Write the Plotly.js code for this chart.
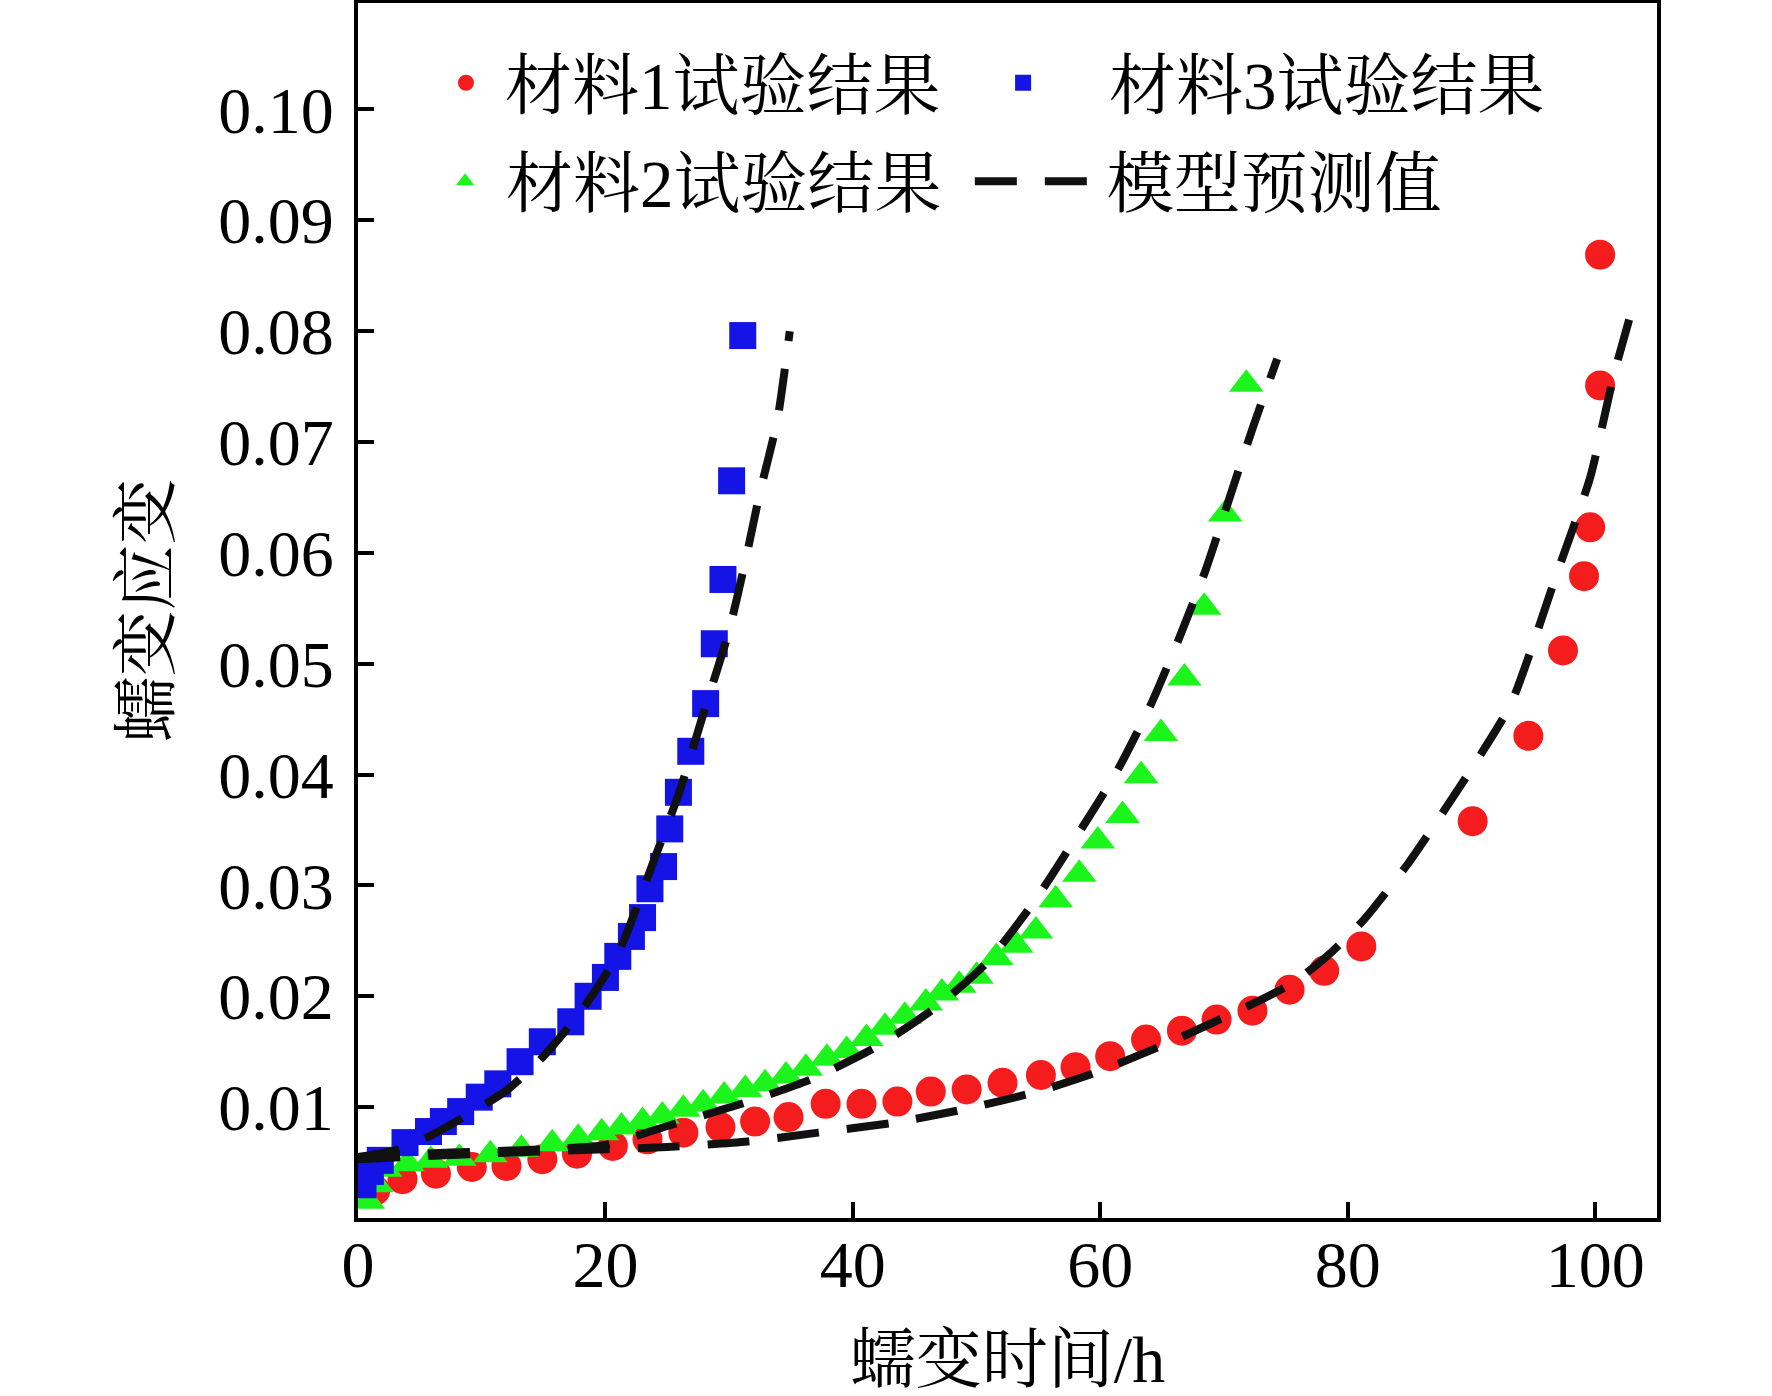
<!DOCTYPE html>
<html>
<head>
<meta charset="utf-8">
<script src="https://cdn.plot.ly/plotly-3.0.1.min.js"></script>
<style>
  html, body { margin: 0; padding: 0; background: #ffffff; }
  #creepChart { width: 1772px; height: 1396px; }
</style>
</head>
<body>
<div id="creepChart"></div>
<script>
// 材料1 (红色圆点)
var M1_X = [1.4, 3.6, 6.3, 9.2, 12.0, 14.9, 17.7, 20.6, 23.4, 26.3, 29.3, 32.1, 34.8, 37.8, 40.7, 43.6, 46.3, 49.2, 52.1, 55.2, 58.0, 60.8, 63.7, 66.6, 69.4, 72.3, 75.3, 78.1, 81.1, 90.1, 94.6, 97.4, 99.1, 99.6, 100.4, 100.4];
var M1_Y = [0.0025, 0.0035, 0.0040, 0.0046, 0.0047, 0.0053, 0.0058, 0.0065, 0.0071, 0.0077, 0.0082, 0.0087, 0.0091, 0.0103, 0.0103, 0.0105, 0.0114, 0.0116, 0.0122, 0.0129, 0.0136, 0.0146, 0.0161, 0.0169, 0.0179, 0.0187, 0.0206, 0.0223, 0.0245, 0.0358, 0.0435, 0.0512, 0.0579, 0.0623, 0.0751, 0.0869];

// 材料2 (绿色三角)
var M2_X = [0.8, 1.5, 2.2, 4.0, 5.9, 8.2, 10.7, 13.2, 15.7, 17.8, 19.7, 21.3, 23.0, 24.6, 26.3, 27.9, 29.6, 31.3, 32.9, 34.6, 36.2, 37.9, 39.5, 41.1, 42.6, 44.2, 45.9, 47.2, 48.6, 50.0, 51.6, 53.2, 54.8, 56.4, 58.3, 59.8, 61.8, 63.3, 64.9, 66.8, 68.4, 70.1, 71.8];
var M2_Y = [0.0015, 0.0030, 0.0044, 0.0049, 0.0052, 0.0054, 0.0057, 0.0062, 0.0067, 0.0072, 0.0077, 0.0082, 0.0087, 0.0092, 0.0098, 0.0103, 0.0110, 0.0116, 0.0121, 0.0128, 0.0135, 0.0144, 0.0151, 0.0162, 0.0172, 0.0182, 0.0194, 0.0203, 0.0210, 0.0218, 0.0235, 0.0246, 0.0259, 0.0287, 0.0310, 0.0340, 0.0363, 0.0399, 0.0437, 0.0487, 0.0551, 0.0635, 0.0752];

// 材料3 (蓝色方块)
var M3_X = [0.4, 1.0, 1.8, 3.8, 5.7, 6.9, 8.3, 9.8, 11.3, 13.1, 14.9, 17.2, 18.6, 20.0, 21.0, 22.1, 23.0, 23.6, 24.7, 25.2, 25.9, 26.9, 28.1, 28.8, 29.5, 30.2, 31.1];
var M3_Y = [0.0030, 0.0042, 0.0052, 0.0068, 0.0078, 0.0087, 0.0096, 0.0109, 0.0121, 0.0141, 0.0159, 0.0177, 0.0200, 0.0217, 0.0236, 0.0254, 0.0271, 0.0297, 0.0317, 0.0351, 0.0384, 0.0421, 0.0464, 0.0518, 0.0576, 0.0665, 0.0796];

// 模型预测值 (三条虚线)
var FIT1_X = [0, 10, 20, 25, 31.5, 37.2, 43.3, 49, 54.9, 59.6, 65.5, 72.1, 75.7, 78.5, 81.3, 84.9, 87.7, 90.4, 93.2, 96.9, 99.6, 101.5, 103.3];
var FIT1_Y = [0.0053, 0.0058, 0.0062, 0.0064, 0.0069, 0.0077, 0.0086, 0.0098, 0.0114, 0.0131, 0.0158, 0.0192, 0.0213, 0.0238, 0.0269, 0.0320, 0.0366, 0.0412, 0.0464, 0.0581, 0.0668, 0.0760, 0.0832];
var FIT2_X = [0, 5, 10, 15, 20, 25, 31, 36.6, 42, 46.7, 50.8, 54.7, 58.3, 61.3, 64, 66.3, 68.5, 70.4, 72.3, 74.3];
var FIT2_Y = [0.0055, 0.0058, 0.0060, 0.0062, 0.0066, 0.0083, 0.0103, 0.0125, 0.0155, 0.0190, 0.0230, 0.0286, 0.0348, 0.0402, 0.0461, 0.0521, 0.0584, 0.0648, 0.0712, 0.0775];
var FIT3_X = [0, 3, 6, 9, 12, 15, 18, 21, 24, 26, 28, 30, 31.3, 32.5, 33.9, 34.9];
var FIT3_Y = [0.0055, 0.0061, 0.0075, 0.0094, 0.0115, 0.0146, 0.0186, 0.0238, 0.0325, 0.0385, 0.0458, 0.0530, 0.0592, 0.0655, 0.0720, 0.0800];

var X_TICKS = [0, 20, 40, 60, 80, 100];
var Y_TICKS = [0.01, 0.02, 0.03, 0.04, 0.05, 0.06, 0.07, 0.08, 0.09, 0.10];
var Y_TICK_TEXT = ["0.01", "0.02", "0.03", "0.04", "0.05", "0.06", "0.07", "0.08", "0.09", "0.10"];

var NAMES = ["材料1试验结果", "材料2试验结果", "材料3试验结果", "模型预测值"];
var X_TITLE = "蠕变时间/h";
var Y_TITLE = "蠕变应变";

(function () {
  var FONT = '"Liberation Serif", "Noto Serif CJK SC", "Noto Sans CJK SC", serif';
  var RED = "#f41c1c";
  var GREEN = "#1cf51c";
  var BLUE = "#1414e6";

  function fitTrace(xs, ys, show) {
    return {
      x: xs,
      y: ys,
      type: "scatter",
      mode: "lines",
      name: NAMES[3],
      legend: "legend4",
      showlegend: show,
      line: { color: "#111111", width: 8, dash: "42px,28px", shape: "spline", smoothing: 0.6 },
      hoverinfo: "skip",
    };
  }

  var traces = [
    {
      x: M1_X, y: M1_Y, type: "scatter", mode: "markers", name: NAMES[0],
      legend: "legend",
      marker: { symbol: "circle", size: 30, color: RED, line: { width: 0 } },
    },
    {
      x: M2_X, y: M2_Y, type: "scatter", mode: "markers", name: NAMES[1],
      legend: "legend3",
      marker: { symbol: "triangle-up", size: 30, color: GREEN, line: { width: 0 } },
    },
    {
      x: M3_X, y: M3_Y, type: "scatter", mode: "markers", name: NAMES[2],
      legend: "legend2",
      marker: { symbol: "square", size: 27, color: BLUE, line: { width: 0 } },
    },
    fitTrace(FIT1_X, FIT1_Y, true),
    fitTrace(FIT2_X, FIT2_Y, false),
    fitTrace(FIT3_X, FIT3_Y, false),
  ];

  function legendBox(x, y, itemw) {
    return {
      x: x, y: y, xanchor: "left", yanchor: "middle",
      bgcolor: "rgba(0,0,0,0)", borderwidth: 0,
      itemwidth: itemw,
      font: { family: FONT, size: 67, color: "#000000" },
    };
  }

  var axisCommon = {
    showline: true, linecolor: "#000000", linewidth: 4, mirror: true,
    ticks: "inside", ticklen: 16, tickwidth: 4, tickcolor: "#000000",
    showgrid: false, zeroline: false,
    tickfont: { family: FONT, size: 66, color: "#000000" },
  };

  var layout = {
    width: 1772,
    height: 1396,
    margin: { l: 358, r: 115, t: 3, b: 178 },
    paper_bgcolor: "#ffffff",
    plot_bgcolor: "#ffffff",
    showlegend: true,
    xaxis: Object.assign({}, axisCommon, {
      range: [0, 105],
      tickmode: "array",
      tickvals: X_TICKS,
      ticklabelstandoff: -14,
      title: { text: X_TITLE, font: { family: FONT, size: 66, color: "#000000" }, standoff: 58 },
    }),
    yaxis: Object.assign({}, axisCommon, {
      range: [0, 0.1096],
      tickmode: "array",
      tickvals: Y_TICKS,
      ticktext: Y_TICK_TEXT,
      ticklabelstandoff: 7,
      title: { text: Y_TITLE, font: { family: FONT, size: 66, color: "#000000" }, standoff: 28 },
    }),
    legend: legendBox(0.0531, 0.934, 68),
    legend2: legendBox(0.4458, 0.934, 162),
    legend3: legendBox(0.0509, 0.853, 72),
    legend4: legendBox(0.471, 0.853, 127),
  };

  Plotly.newPlot("creepChart", traces, layout, { displayModeBar: false, staticPlot: true });
})();
</script>
</body>
</html>
